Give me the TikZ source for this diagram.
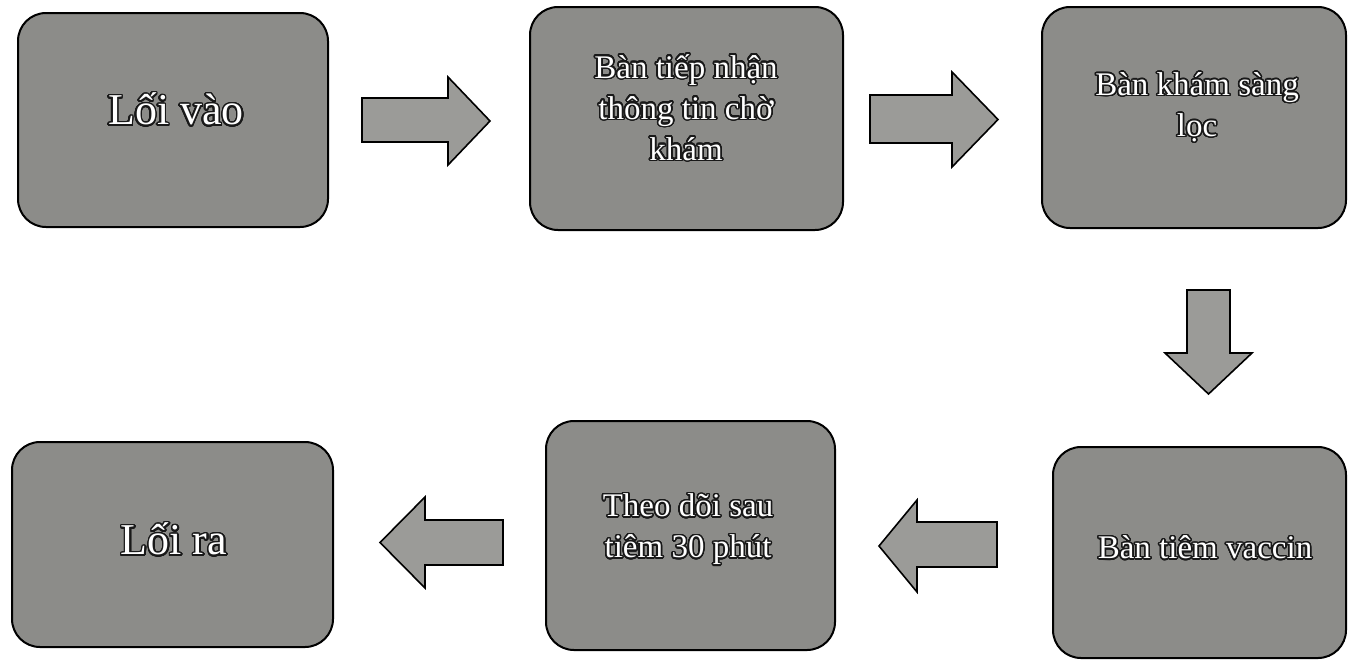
\documentclass[tikz,border=0pt]{standalone}
\usepackage{fontspec}
\setmainfont{Liberation Serif}
\usepackage[copies]{contour}
\contourlength{1.5pt}
\contournumber{32}
\tikzset{
  x=1pt, y=-1pt,
  box/.style={draw=black, line width=2pt, fill=boxgray, rounded corners=28pt, inner sep=0pt},
  txt/.style={text=white, align=center, inner sep=0pt},
  big/.style={font=\fontsize{44}{50}\selectfont},
  mid/.style={font=\fontsize{33}{41}\selectfont},
  blockarrow/.style={draw=black, line width=1.6pt, fill=arrowgray, line join=miter}
}
\definecolor{boxgray}{RGB}{140,140,137}
\definecolor{arrowgray}{RGB}{155,155,152}
\newcommand{\ct}[1]{\contour{black!90}{#1}}
\begin{document}
\begin{tikzpicture}
\useasboundingbox (0,0) rectangle (1348,662);
% boxes
\node[box, minimum width=310pt, minimum height=214pt] (b1) at (173,120) {};
\node[box, minimum width=313pt, minimum height=223pt] (b2) at (686.5,118.5) {};
\node[box, minimum width=304pt, minimum height=221pt] (b3) at (1194,117.5) {};
\node[box, minimum width=293pt, minimum height=211pt] (b4) at (1199.5,552.5) {};
\node[box, minimum width=289pt, minimum height=229pt] (b5) at (690.5,535.5) {};
\node[box, minimum width=321pt, minimum height=205pt] (b6) at (172.5,544.5) {};
% texts
\node[txt, big] (t1) at (176,110) {\ct{Lối vào}};
\node[txt, mid] (t2) at (686,108) {\ct{Bàn tiếp nhận}\\\ct{thông tin chờ}\\\ct{khám}};
\node[txt, mid] (t3) at (1197,108) {\ct{Bàn khám sàng}\\\ct{lọc}};
\node[txt, mid] (t4) at (1205,548) {\ct{Bàn tiêm vaccin}};
\node[txt, mid] (t5) at (688,530) {\ct{Theo dõi sau}\\\ct{tiêm 30 phút}};
\node[txt, big] (t6) at (174,540) {\ct{Lối ra}};
% block arrows
\draw[blockarrow] (362,98) -- (448,98) -- (448,77) -- (490,121) -- (448,165) -- (448,142) -- (362,142) -- cycle;
\draw[blockarrow] (870,95) -- (952,95) -- (952,72) -- (998,119.5) -- (952,167) -- (952,143) -- (870,143) -- cycle;
\draw[blockarrow] (1187,290) -- (1230,290) -- (1230,353) -- (1252,353) -- (1208.5,394) -- (1165,353) -- (1187,353) -- cycle;
\draw[blockarrow] (997,522) -- (917,522) -- (917,500) -- (879,546) -- (917,592) -- (917,567) -- (997,567) -- cycle;
\draw[blockarrow] (503,520) -- (425,520) -- (425,497) -- (380,542.5) -- (425,588) -- (425,565) -- (503,565) -- cycle;
\end{tikzpicture}
\end{document}
